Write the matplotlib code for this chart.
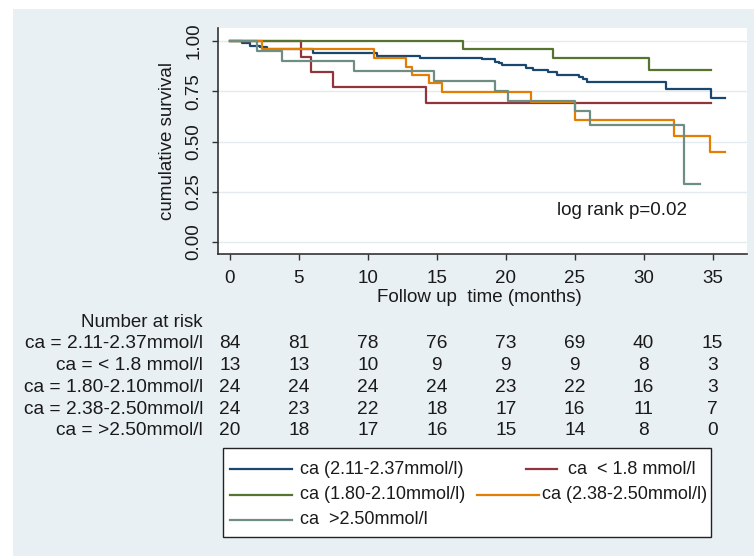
import matplotlib
matplotlib.use("Agg")
import matplotlib.pyplot as plt
from matplotlib.patches import Rectangle
from matplotlib.lines import Line2D
from matplotlib.transforms import blended_transform_factory

plt.rcParams['font.family'] = ['Liberation Sans', 'DejaVu Sans']

# --- данные ---
groups = ["ca (2.11-2.37mmol/l)", "ca  < 1.8 mmol/l", "ca (1.80-2.10mmol/l)",
          "ca (2.38-2.50mmol/l)", "ca  >2.50mmol/l"]
risk_labels = ["ca = 2.11-2.37mmol/l", "ca = < 1.8 mmol/l", "ca = 1.80-2.10mmol/l",
               "ca = 2.38-2.50mmol/l", "ca = >2.50mmol/l"]
colors = ["#1a476f", "#90353b", "#55752f", "#e37e00", "#6e8e84"]

blue_t = [0, 0.85, 1.45, 2.2, 2.7, 6.05, 10.65, 13.8, 18.3, 19.2, 19.5, 19.7, 21.5,
          22.0, 23.1, 23.7, 25.3, 25.6, 25.9, 31.6, 34.9, 35.9]
blue_s = [1.0, 0.988, 0.977, 0.970, 0.959, 0.942, 0.928, 0.917, 0.909, 0.897, 0.889,
          0.881, 0.864, 0.856, 0.845, 0.831, 0.821, 0.810, 0.798, 0.763, 0.715, 0.715]
red_t = [0, 5.16, 5.9, 7.45, 14.2, 34.9]
red_s = [1.0, 0.923, 0.846, 0.769, 0.692, 0.692]
green_t = [0, 16.9, 23.4, 30.4, 34.9]
green_s = [1.0, 0.958, 0.916, 0.855, 0.855]
orange_t = [0, 2.3, 10.45, 12.8, 13.2, 14.4, 15.4, 21.8, 25.05, 32.2, 34.8, 35.9]
orange_s = [1.0, 0.958, 0.914, 0.872, 0.831, 0.790, 0.745, 0.698, 0.605, 0.528, 0.449, 0.449]
gray_t = [0, 1.94, 3.8, 9.0, 14.8, 19.2, 20.2, 25.05, 26.1, 32.9, 34.1]
gray_s = [1.0, 0.95, 0.90, 0.85, 0.80, 0.75, 0.70, 0.65, 0.582, 0.289, 0.289]

curves = [(blue_t, blue_s), (red_t, red_s), (green_t, green_s),
          (orange_t, orange_s), (gray_t, gray_s)]

risk_times = [0, 5, 10, 15, 20, 25, 30, 35]
at_risk = [
    [84, 81, 78, 76, 73, 69, 40, 15],
    [13, 13, 10, 9, 9, 9, 8, 3],
    [24, 24, 24, 24, 23, 22, 16, 3],
    [24, 23, 22, 18, 17, 16, 11, 7],
    [20, 18, 17, 16, 15, 14, 8, 0],
]

W, H = 754, 556
fig = plt.figure(figsize=(W / 100, H / 100), dpi=100, facecolor="white")

def fx(px):
    return px / W

def fy(py):
    return 1 - py / H

bg = "#e9f0f3"
fig.patches.append(Rectangle((fx(13), 0), 1 - fx(13), fy(9), transform=fig.transFigure,
                             facecolor=bg, edgecolor="none", zorder=-10))

ax = fig.add_axes([fx(217.7), fy(254), fx(747) - fx(217.7), fy(28) - fy(254)])
ax.set_facecolor("white")
ax.set_xlim(-0.89, 37.5)
ax.set_ylim(-0.06, 1.065)

for (t, s), c in zip(curves, colors):
    ax.step(t, s, where="post", color=c, lw=1.6, zorder=3)

ax.set_xticks(risk_times)
ax.set_yticks([0, 0.25, 0.5, 0.75, 1.0])
ax.set_yticklabels(["0.00", "0.25", "0.50", "0.75", "1.00"], rotation=90, va="center")
ax.yaxis.grid(True, color="#e3ebee", lw=1.0)
ax.set_axisbelow(True)
for sp in ["top", "right"]:
    ax.spines[sp].set_visible(False)
for sp in ["left", "bottom"]:
    ax.spines[sp].set_color("#333333")
    ax.spines[sp].set_linewidth(1.2)
ax.tick_params(axis="both", direction="out", length=4, width=1, color="#333333",
               labelsize=13.5, labelcolor="#1a1a1a")
ax.tick_params(axis="x", pad=7.5)
ax.tick_params(axis="y", pad=7)

ax.text(23.7, 0.159, "log rank p=0.02", fontsize=13.5, va="center", ha="left", color="#1a1a1a")

fig.text(fx(168), fy(141), "cumulative survival", rotation=90, ha="center", va="center",
         fontsize=13.5, color="#1a1a1a")
fig.text(fx(479), fy(297), "Follow up  time (months)", ha="center", va="center",
         fontsize=13.5, color="#1a1a1a")

# --- таблица "Number at risk" ---
tr = blended_transform_factory(ax.transData, fig.transFigure)
fig.text(fx(203), fy(322.7), "Number at risk", ha="right", va="center", fontsize=13.5,
         color="#1a1a1a")
row_y = [343.3, 365, 387, 409, 430.5]
for lab, vals, yy in zip(risk_labels, at_risk, row_y):
    fig.text(fx(203), fy(yy), lab, ha="right", va="center", fontsize=13.8, color="#1a1a1a")
    for t, v in zip(risk_times, vals):
        ax.text(t, fy(yy), str(v), transform=tr, ha="center", va="center", fontsize=13.8,
                color="#1a1a1a", clip_on=False)

# --- легенда ---
fig.patches.append(Rectangle((fx(222.7), fy(537.3)), fx(711) - fx(222.7), fy(447.7) - fy(537.3),
                             transform=fig.transFigure, facecolor="white",
                             edgecolor="#222222", lw=1.0, zorder=1))
leg_pos = [
    (230, 292, 300, 469),
    (526, 557, 568, 469),
    (230, 292, 300, 494.5),
    (477, 539, 542, 494.5),
    (230, 292, 300, 520),
]
for (x0, x1, xt, yy), lab, c in zip(leg_pos, groups, colors):
    fig.add_artist(Line2D([fx(x0), fx(x1)], [fy(yy), fy(yy)], transform=fig.transFigure,
                          color=c, lw=1.6, zorder=2))
    fig.text(fx(xt), fy(yy), lab, ha="left", va="center", fontsize=13, color="#1a1a1a",
             zorder=2)

fig.savefig("out.png", dpi=100, facecolor=fig.get_facecolor())
